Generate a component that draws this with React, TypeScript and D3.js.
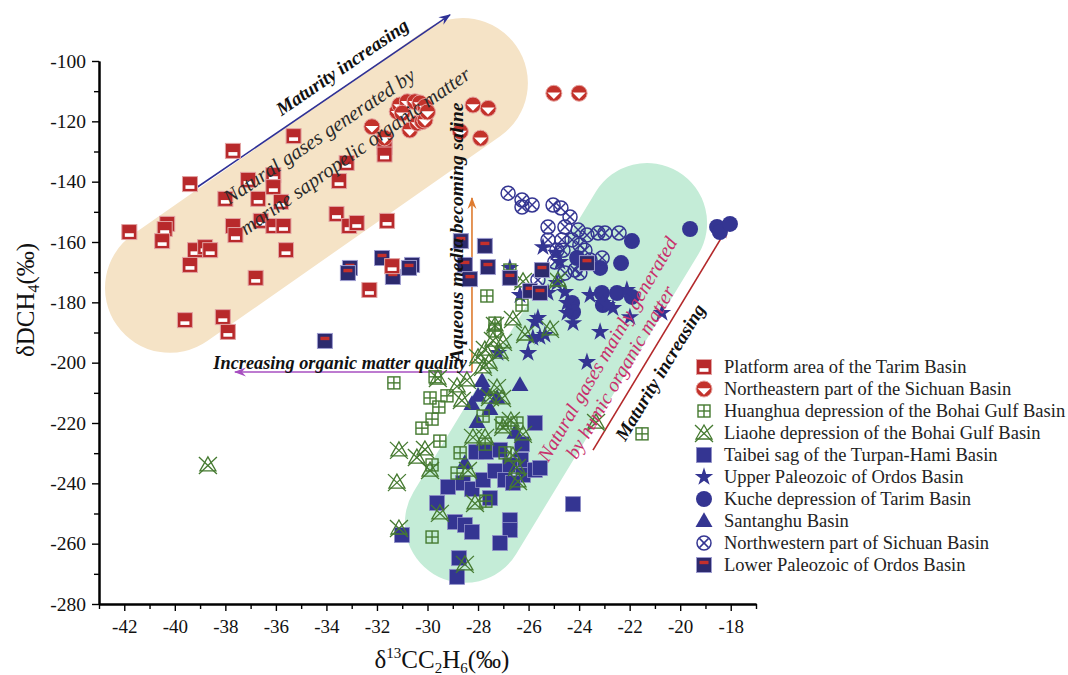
import React, { useEffect, useRef } from 'react';
import * as d3 from 'd3';

type Pt = [number, number];

// δ13C(C2H6) vs δD(CH4)
const tarimPlatform: Pt[] = [
  [-41.8, -156.7], [-40.3, -154.0], [-40.4, -155.7], [-40.5, -159.7], [-39.4, -140.8], [-37.7, -129.8],
  [-35.3, -124.9], [-39.2, -162.7], [-38.8, -161.7], [-38.6, -162.7], [-39.4, -167.6], [-39.6, -185.9],
  [-38.1, -184.9], [-37.9, -189.8], [-36.8, -171.9], [-38.0, -145.7], [-37.7, -154.7], [-37.6, -157.7],
  [-37.1, -139.4], [-36.7, -145.7], [-36.1, -137.8], [-36.1, -141.8], [-35.8, -146.7], [-36.6, -153.0],
  [-36.1, -154.7], [-35.7, -154.7], [-35.6, -162.7], [-33.6, -150.7], [-33.5, -139.8], [-33.2, -133.8],
  [-33.1, -154.7], [-32.8, -153.7], [-31.6, -153.0], [-31.7, -126.5], [-31.7, -128.5], [-31.7, -131.0],
  [-31.4, -168.0], [-32.3, -175.9],
];
const sichuanNE: Pt[] = [
  [-32.2, -121.8], [-31.2, -116.8], [-31.1, -114.6], [-30.8, -113.5], [-30.5, -113.5], [-30.3, -113.9],
  [-30.1, -115.1], [-30.7, -122.9], [-30.4, -120.6], [-30.2, -120.1], [-30.1, -119.6], [-31.0, -117.3],
  [-31.7, -125.5], [-28.2, -114.6], [-27.6, -115.7], [-28.7, -123.4], [-27.9, -125.6], [-25.0, -110.7],
  [-24.0, -110.7], [-30.0, -116.9],
];
const huanghua: Pt[] = [
  [-27.65, -177.9], [-26.74, -169.3], [-26.26, -180.9], [-27.33, -186.9], [-27.33, -189.5], [-31.33, -206.7],
  [-29.7, -204.7], [-29.9, -211.7], [-29.23, -211.0], [-29.55, -214.7], [-29.82, -218.7], [-30.22, -221.7],
  [-29.51, -226.0], [-28.71, -229.9], [-27.8, -217.7], [-27.05, -220.0], [-26.46, -220.0], [-29.82, -233.9],
  [-28.83, -236.6], [-27.72, -227.0], [-27.69, -245.9], [-29.82, -257.8], [-21.51, -223.6], [-26.93, -229.9],
];
const liaohe: Pt[] = [
  [-38.69, -233.9], [-26.22, -172.9], [-24.84, -172.6], [-26.62, -185.5], [-26.14, -190.5], [-25.15, -188.8],
  [-27.41, -192.5], [-27.01, -193.1], [-27.73, -195.5], [-27.57, -199.8], [-27.8, -201.4], [-29.59, -205.1],
  [-28.83, -207.7], [-28.44, -205.7], [-28.64, -212.4], [-27.25, -208.1], [-27.05, -211.7], [-27.53, -211.4],
  [-26.7, -219.0], [-27.01, -221.3], [-26.22, -223.6], [-28.2, -224.6], [-27.72, -224.6], [-31.13, -228.9],
  [-30.42, -231.3], [-30.1, -228.6], [-29.9, -235.6], [-31.21, -239.6], [-28.4, -235.6], [-26.62, -230.6],
  [-26.46, -234.6], [-26.42, -239.2], [-28.12, -246.5], [-29.51, -249.8], [-31.13, -254.8], [-28.52, -266.7],
  [-23.33, -219.7], [-27.33, -187.5], [-27.13, -196.5], [-28.0, -198.1],
];
const taibei: Pt[] = [
  [-25.75, -220.0], [-26.26, -227.0], [-28.08, -229.6], [-27.69, -229.6], [-27.13, -228.9], [-26.3, -232.3],
  [-29.19, -241.2], [-28.6, -239.9], [-28.24, -241.9], [-27.8, -238.9], [-27.33, -235.9], [-26.93, -238.9],
  [-26.74, -233.9], [-26.22, -237.2], [-25.75, -235.6], [-25.55, -234.9], [-26.62, -239.9], [-27.53, -244.9],
  [-29.62, -246.5], [-28.91, -252.8], [-28.52, -253.8], [-28.24, -256.1], [-26.74, -252.2], [-26.74, -255.5],
  [-27.13, -259.8], [-31.01, -257.1], [-28.75, -264.8], [-28.83, -271.0], [-24.24, -246.9],
];
const ordosUpper: Pt[] = [
  [-25.43, -161.7], [-24.92, -163.6], [-24.76, -166.6], [-26.74, -168.6], [-26.34, -177.6], [-25.23, -176.9],
  [-24.56, -176.6], [-24.88, -173.6], [-24.48, -183.5], [-24.24, -186.9], [-25.75, -186.5], [-25.55, -191.5],
  [-23.57, -177.6], [-23.06, -180.2], [-22.66, -181.9], [-22.11, -175.9], [-21.99, -184.9], [-23.17, -189.8],
  [-20.72, -183.5], [-25.63, -185.2], [-25.35, -190.8], [-26.02, -196.8], [-25.83, -191.8], [-27.21, -196.8],
  [-23.69, -199.8], [-24.48, -180.2], [-22.9, -180.9],
];
const kuche: Pt[] = [
  [-19.61, -155.7], [-18.54, -155.0], [-18.43, -156.7], [-18.03, -154.0], [-21.91, -159.7], [-22.34, -167.0],
  [-23.17, -168.6], [-22.5, -176.9], [-23.1, -176.9], [-21.91, -178.2], [-24.28, -180.2], [-24.24, -183.2],
  [-24.08, -165.3], [-23.06, -180.9],
];
const santanghu: Pt[] = [
  [-27.84, -206.1], [-26.34, -207.4], [-28.0, -211.0], [-28.24, -213.7], [-27.53, -215.4], [-27.25, -211.7],
  [-28.04, -219.7], [-26.54, -223.3], [-28.52, -233.3], [-27.72, -209.1],
];
const sichuanNW: Pt[] = [
  [-26.81, -143.8], [-26.26, -146.1], [-26.26, -148.4], [-25.86, -147.7], [-25.03, -147.7], [-24.72, -148.7],
  [-24.36, -151.7], [-25.23, -155.0], [-24.56, -155.0], [-25.23, -159.3], [-24.68, -159.3], [-24.04, -156.0],
  [-23.69, -157.7], [-23.25, -157.0], [-22.98, -157.0], [-22.42, -157.0], [-23.09, -165.3], [-25.63, -172.6],
  [-23.97, -161.0], [-24.28, -159.3], [-24.64, -162.7], [-24.88, -162.7], [-24.16, -169.3], [-23.97, -170.3],
  [-24.56, -170.3], [-24.96, -166.6], [-23.77, -162.7], [-23.57, -166.0],
];
const ordosLower: Pt[] = [
  [-33.07, -168.6], [-33.15, -170.3], [-31.8, -165.3], [-31.37, -171.6], [-30.61, -167.6], [-30.73, -168.6],
  [-28.68, -159.7], [-28.52, -167.6], [-28.32, -172.3], [-27.73, -161.3], [-27.61, -168.3], [-26.74, -171.9],
  [-25.47, -169.3], [-25.94, -176.2], [-25.55, -176.9], [-23.69, -167.0], [-34.06, -192.8],
];

const legendLabels = [
  'Platform area of the Tarim Basin',
  'Northeastern part of the Sichuan Basin',
  'Huanghua depression of the Bohai Gulf Basin',
  'Liaohe depression of the Bohai Gulf Basin',
  'Taibei sag of the Turpan-Hami Basin',
  'Upper Paleozoic of Ordos Basin',
  'Kuche depression of Tarim Basin',
  'Santanghu Basin',
  'Northwestern part of Sichuan Basin',
  'Lower Paleozoic of Ordos Basin',
];
const legendKinds = ['platform', 'sichuanNE', 'huanghua', 'liaohe', 'taibei', 'star', 'kuche', 'triangle', 'sichuanNW', 'ordosLower'];

// capsule zones (axis end points, data units)
const marineZone: Pt[] = [[-40.19, -175.2], [-28.6, -107.3]];
const humicZone: Pt[] = [[-28.52, -253.1], [-21.31, -153.7]];

const SERIF = '"Liberation Serif", "Times New Roman", serif';
const BLUE = '#343592';
const GREEN = '#457a30';
const RED = '#b8292b';

const starPath = d3.symbol().type(d3.symbolStar).size(105)() as string;
const triPath = d3.symbol().type(d3.symbolTriangle).size(125)() as string;

function Marker({ kind, cx, cy }: { kind: string; cx: number; cy: number }) {
  const t = `translate(${cx},${cy})`;
  switch (kind) {
    case 'platform':
      return (
        <g transform={t}>
          <rect x={-7.5} y={-7.5} width={15} height={15} fill={RED} stroke="#e2a3a3" strokeWidth={1} />
          <rect x={-4.5} y={1.2} width={9} height={3.6} fill="#fff" />
        </g>
      );
    case 'sichuanNE':
      return (
        <g transform={t}>
          <circle r={8} fill="#c3322b" stroke="#e6a4a0" strokeWidth={1} />
          <path d="M-6.5,-0.8 L6.5,-0.8 L0,5.8 Z" fill="#fff" />
        </g>
      );
    case 'huanghua':
      return (
        <g transform={t} fill="none" stroke={GREEN} strokeWidth={1.4}>
          <rect x={-6} y={-6} width={12} height={12} />
          <line x1={-6} x2={6} y1={0} y2={0} />
          <line x1={0} x2={0} y1={-6} y2={6} />
        </g>
      );
    case 'liaohe':
      return (
        <g transform={t} fill="none" stroke={GREEN} strokeWidth={1.3}>
          <path d="M0,-8 L-8,6 L8,6 Z" />
          <line x1={-9} y1={-8} x2={9} y2={9} />
          <line x1={9} y1={-8} x2={-9} y2={9} />
        </g>
      );
    case 'taibei':
      return <rect x={cx - 7.5} y={cy - 7.5} width={15} height={15} fill={BLUE} stroke="#8f90c8" strokeWidth={0.8} />;
    case 'star':
      return <path transform={t} d={starPath} fill={BLUE} />;
    case 'kuche':
      return <circle cx={cx} cy={cy} r={8} fill={BLUE} />;
    case 'triangle':
      return <path transform={`translate(${cx},${cy + 1})`} d={triPath} fill={BLUE} />;
    case 'sichuanNW':
      return (
        <g transform={t} fill="none" stroke={BLUE} strokeWidth={1.5}>
          <circle r={7} />
          <line x1={-4.6} y1={-4.6} x2={4.6} y2={4.6} />
          <line x1={4.6} y1={-4.6} x2={-4.6} y2={4.6} />
        </g>
      );
    case 'ordosLower':
      return (
        <g transform={t}>
          <rect x={-7.5} y={-7.5} width={15} height={15} fill="#2c2a6e" stroke="#9d9ccf" strokeWidth={1} />
          <rect x={-4.5} y={-4.2} width={9} height={3.4} fill="#c4302c" />
        </g>
      );
    default:
      return null;
  }
}

export default function App() {
  const xAxisRef = useRef<SVGGElement>(null);
  const yAxisRef = useRef<SVGGElement>(null);

  const x = d3.scaleLinear().domain([-43, -17]).range([99, 756]);
  const y = d3.scaleLinear().domain([-280, -100]).range([604, 61]);

  useEffect(() => {
    const fmt = (d: d3.NumberValue) => String(d);
    const gx = d3.select(xAxisRef.current);
    gx.selectAll('*').remove();
    gx.append('g').call(d3.axisBottom(x).tickValues(d3.range(-43, -16, 2)).tickSize(5).tickSizeOuter(0).tickFormat(() => ''));
    gx.append('g').call(d3.axisBottom(x).tickValues(d3.range(-42, -17, 2)).tickSize(7).tickSizeOuter(0).tickFormat(fmt));
    gx.selectAll('.domain').attr('stroke', '#000').attr('stroke-width', 2);
    gx.selectAll('.tick line').attr('stroke', '#000').attr('stroke-width', 1.4);
    gx.selectAll('text').attr('font-family', SERIF).attr('font-size', 19).attr('fill', '#111').attr('dy', '1.0em');

    const gy = d3.select(yAxisRef.current);
    gy.selectAll('*').remove();
    gy.append('g').call(d3.axisLeft(y).tickValues(d3.range(-270, -100, 20)).tickSize(5).tickSizeOuter(0).tickFormat(() => ''));
    gy.append('g').call(d3.axisLeft(y).tickValues(d3.range(-280, -99, 20)).tickSize(7).tickPadding(6).tickSizeOuter(0).tickFormat(fmt));
    gy.selectAll('.domain').attr('stroke', '#000').attr('stroke-width', 2);
    gy.selectAll('.tick line').attr('stroke', '#000').attr('stroke-width', 1.4);
    gy.selectAll('text').attr('font-family', SERIF).attr('font-size', 19.5).attr('fill', '#111');
  }, []);

  const px = (p: Pt) => [x(p[0]), y(p[1])];
  const angle = (a: Pt, b: Pt) => {
    const [x1, y1] = px(a);
    const [x2, y2] = px(b);
    return (Math.atan2(y2 - y1, x2 - x1) * 180) / Math.PI;
  };

  // annotation arrows in data units
  const blueArrow: Pt[] = [[-39.16, -142.1], [-29.11, -84.7]];
  const orangeArrow: Pt[] = [[-28.24, -203.1], [-28.24, -145.4]];
  const purpleArrow: Pt[] = [[-28.24, -203.1], [-37.62, -203.1]];
  const redArrow: Pt[] = [[-23.45, -229.0], [-18.11, -155.0]];

  const series: [string, Pt[]][] = [
    ['taibei', taibei],
    ['triangle', santanghu],
    ['kuche', kuche],
    ['star', ordosUpper],
    ['sichuanNW', sichuanNW],
    ['huanghua', huanghua],
    ['liaohe', liaohe],
    ['ordosLower', ordosLower],
    ['platform', tarimPlatform],
    ['sichuanNE', sichuanNE],
  ];

  const capsule = (z: Pt[], color: string, r: number) => {
    const [x1, y1] = px(z[0]);
    const [x2, y2] = px(z[1]);
    return <line x1={x1} y1={y1} x2={x2} y2={y2} stroke={color} strokeWidth={2 * r} strokeLinecap="round" />;
  };

  const arrow = (a: Pt[], color: string, id: string) => {
    const [x1, y1] = px(a[0]);
    const [x2, y2] = px(a[1]);
    return <line x1={x1} y1={y1} x2={x2} y2={y2} stroke={color} strokeWidth={1.6} markerEnd={`url(#${id})`} />;
  };

  const label = (at: Pt, rot: number, text: string, opts: any) => {
    const [cx, cy] = px(at);
    return (
      <text transform={`translate(${cx},${cy}) rotate(${rot})`} textAnchor="middle" dominantBaseline="central"
        fontFamily={SERIF} {...opts}>{text}</text>
    );
  };

  const aBlue = angle(blueArrow[0], blueArrow[1]);
  const aRed = angle(redArrow[0], redArrow[1]);
  const boldIt = { fontWeight: 'bold', fontStyle: 'italic', fill: '#111' };
  const tanText = { fontSize: 20.5, fontStyle: 'italic', fill: '#2a2a2a' };
  const pinkText = { fontSize: 20, fontStyle: 'italic', fill: '#c8306c' };

  return (
    <svg width={1068} height={675} style={{ position: 'absolute', left: 0, top: 0, background: '#fff' }}>
      <defs>
        {[['ah-blue', '#2f3196'], ['ah-orange', '#de7b2f'], ['ah-purple', '#a74fc0'], ['ah-red', '#b3282a']].map(([id, c]) => (
          <marker key={id} id={id} viewBox="0 0 12 10" refX={11} refY={5} markerWidth={12} markerHeight={10}
            markerUnits="userSpaceOnUse" orient="auto">
            <path d="M0,0.5 L12,5 L0,9.5 L4,5 Z" fill={c} />
          </marker>
        ))}
      </defs>

      {capsule(marineZone, '#f5e3c6', 65)}
      {capsule(humicZone, '#c4ecd7', 60)}

      {arrow(blueArrow, '#2f3196', 'ah-blue')}
      {arrow(orangeArrow, '#de7b2f', 'ah-orange')}
      {arrow(purpleArrow, '#a74fc0', 'ah-purple')}
      {arrow(redArrow, '#b3282a', 'ah-red')}

      {series.map(([kind, pts]) => (
        <g key={kind}>
          {pts.map((p, i) => <Marker key={i} kind={kind} cx={x(p[0])} cy={y(p[1])} />)}
        </g>
      ))}

      {label([-33.38, -101.99], aBlue, 'Maturity increasing', { ...boldIt, fontSize: 19 })}
      {label([-34.29, -124.9], -34, 'Natural gases generated by', tanText)}
      {label([-32.87, -129.8], -35, 'marine sapropelic organic matter', tanText)}
      {label([-28.87, -156.8], -90, 'Aqueous media becoming saline', { ...boldIt, fontSize: 19.5 })}
      {label([-33.46, -200.1], 0, 'Increasing organic matter quality', { ...boldIt, fontSize: 18.3 })}
      {label([-20.8, -203.1], aRed, 'Maturity increasing', { ...boldIt, fontSize: 19 })}
      {label([-22.9, -195.5], -59.6, 'Natural gases mainly generated', pinkText)}
      {label([-22.38, -203.1], -59.6, 'by humic organic matter', pinkText)}

      <g ref={xAxisRef} transform="translate(0,604)" />
      <g ref={yAxisRef} transform={`translate(${x(-43)},0)`} />

      <text transform="translate(34,300) rotate(-90)" textAnchor="middle" fontFamily={SERIF} fontSize={25} fill="#111">
        δDCH<tspan fontSize={16} dy={5}>4</tspan><tspan dy={-5}>(‰)</tspan>
      </text>
      <text x={442} y={668} textAnchor="middle" fontFamily={SERIF} fontSize={25} fill="#111">
        δ<tspan fontSize={15} dy={-10}>13</tspan><tspan dy={10}>CC</tspan><tspan fontSize={15} dy={5}>2</tspan>
        <tspan dy={-5}>H</tspan><tspan fontSize={15} dy={5}>6</tspan><tspan dy={-5}>(‰)</tspan>
      </text>

      <g>
        {legendLabels.map((name, i) => (
          <g key={name} transform={`translate(704,${367 + i * 22})`}>
            <Marker kind={legendKinds[i]} cx={0} cy={0} />
            <text x={20} y={0} dominantBaseline="central" fontFamily={SERIF} fontSize={18.5} fill="#222">{name}</text>
          </g>
        ))}
      </g>
    </svg>
  );
}
